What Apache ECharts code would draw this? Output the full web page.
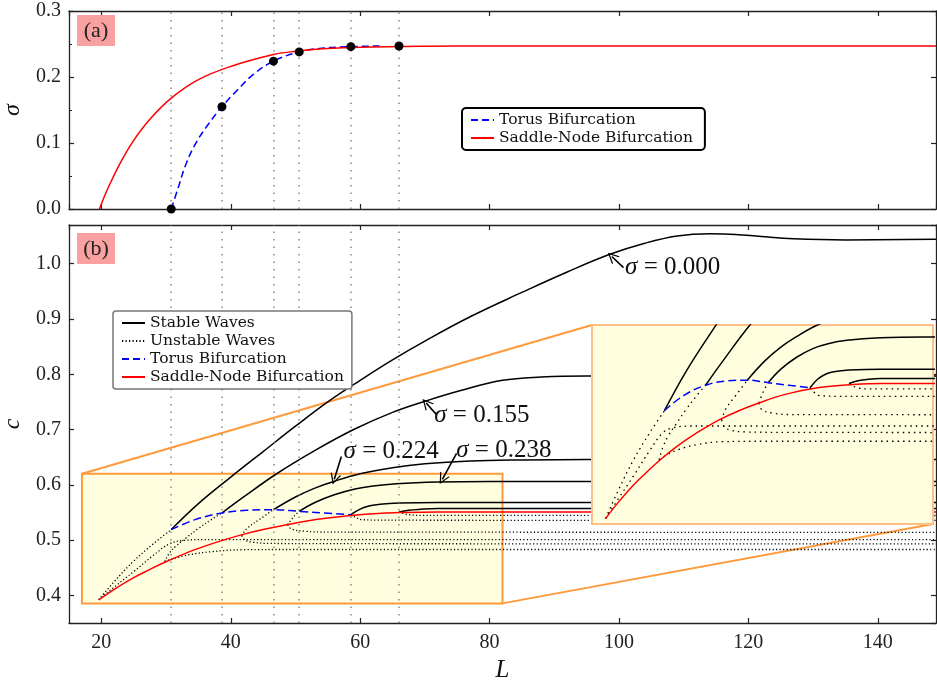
<!DOCTYPE html>
<html>
<head>
<meta charset="utf-8">
<script src="https://cdn.jsdelivr.net/npm/echarts@6/dist/echarts.min.js"></script>
<style>
  html, body { margin: 0; padding: 0; background: #fff; }
  #main { width: 937px; height: 683px; }
</style>
</head>
<body>
<div id="main"></div>
<script>
// ---- values ----
// torus points (dots in panel a, grey guide lines in both panels)
const torusL = [30.8, 38.64, 46.6, 50.58, 58.56, 66.0]
const torusSigma = [0.0, 0.155, 0.224, 0.238, 0.246, 0.247]

// panel (a): sigma against L
const snSigma = [[19.7, 0], [21, 0.031], [23, 0.071], [25, 0.104], [27.5, 0.136], [30.8, 0.168], [35, 0.196], [40, 0.216], [46.6, 0.234], [50, 0.239], [55, 0.243], [60, 0.245], [70, 0.2465], [80, 0.247], [100, 0.247], [149, 0.247]]
const trSigma = [[30.8, 0], [32, 0.036], [33, 0.066], [34.5, 0.098], [36.5, 0.128], [38.64, 0.155], [41, 0.18], [43.5, 0.204], [46.6, 0.224], [50.58, 0.238], [54, 0.2435], [58.56, 0.246], [63, 0.247]]

// panel (b): wave speed c against L
const snC = [[19.6, 0.392], [22, 0.411], [25, 0.432], [27.5, 0.447], [29.8, 0.460], [33, 0.476], [36, 0.489], [38.6, 0.499], [41.5, 0.509], [45, 0.519], [48.8, 0.528], [52, 0.535], [55, 0.540], [58.6, 0.5445], [62, 0.5475], [66.2, 0.5497], [72, 0.551], [149, 0.551]]
const trC = [[30.8, 0.519], [34.5, 0.537], [38.64, 0.549], [42.5, 0.554], [46.6, 0.555], [50.58, 0.552], [54.5, 0.549], [58.56, 0.546]]

// stable branches
const stable000 = [[30.8, 0.519], [35, 0.566], [40, 0.614], [45, 0.660], [50, 0.706], [55, 0.750], [60, 0.789], [65, 0.826], [70, 0.860], [77, 0.904], [85, 0.948], [92, 0.985], [98.6, 1.017], [104, 1.037], [109, 1.050], [114, 1.054], [118, 1.053], [122, 1.049], [127, 1.045], [135, 1.043], [149, 1.044]]
const stable155 = [[38.64, 0.549], [42, 0.578], [47.1, 0.620], [53.3, 0.664], [59, 0.700], [65, 0.731], [70, 0.751], [75.4, 0.770], [82, 0.789], [88, 0.795], [95, 0.797], [149, 0.797]]
const stable224 = [[46.6, 0.555], [50, 0.578], [53, 0.594], [55.9, 0.606], [60, 0.620], [65, 0.631], [70, 0.638], [77, 0.643], [85, 0.645], [95, 0.646], [149, 0.646]]
const stable238 = [[50.58, 0.552], [53, 0.568], [56, 0.582], [59.2, 0.5925], [62, 0.598], [65.6, 0.602], [72, 0.605], [80, 0.606], [149, 0.606]]
const stable246 = [[58.56, 0.546], [60, 0.556], [61.5, 0.562], [63.1, 0.565], [66, 0.567], [72, 0.568], [149, 0.568]]
const stable247 = [[66.0, 0.551], [67.5, 0.554], [69, 0.5555], [72, 0.557], [149, 0.557]]

// unstable branches (upper part: fold -> torus, lower part: fold -> plateau)
const unstable000a = [[19.6, 0.392], [22, 0.425], [25, 0.462], [28, 0.493], [30.8, 0.519]]
const unstable000b = [[19.6, 0.392], [22, 0.415], [25, 0.443], [28, 0.472], [30.5, 0.493], [32.5, 0.499], [36, 0.501], [149, 0.501]]
const unstable155a = [[29.8, 0.461], [30.5, 0.476], [31.5, 0.489], [33, 0.503], [35, 0.521], [37, 0.537], [38.64, 0.549]]
const unstable155b = [[29.8, 0.461], [31, 0.466], [33.6, 0.4735], [37, 0.479], [41.8, 0.4825], [50, 0.483], [149, 0.483]]
const unstable224a = [[41.7, 0.508], [42.5, 0.521], [44.4, 0.537], [46.6, 0.555]]
const unstable224b = [[41.7, 0.508], [42.2, 0.500], [43.5, 0.496], [46, 0.494], [55, 0.4935], [149, 0.493]]
const unstable238a = [[48.8, 0.528], [49.8, 0.5434], [50.58, 0.552]]
const unstable238b = [[48.8, 0.528], [49.4, 0.520], [51.6, 0.516], [55, 0.5145], [149, 0.514]]
const unstable246 = [[58.56, 0.546], [59.3, 0.541], [60.2, 0.537], [64, 0.536], [149, 0.5355]]
const unstable247 = [[66.0, 0.551], [67.5, 0.546], [70, 0.5447], [149, 0.5445]]

// zoomed region shown in the inset
const zoomL = [17, 82]
const zoomC = [0.3855, 0.62]

// annotations: label, text centre, arrow tail, arrow tip (data coords)
const notesMain = [
  ['0.000', [108.3, 0.993], [100.7, 0.993], [98.9, 1.013]],
  ['0.155', [78.8, 0.725], [71.8, 0.727], [70.2, 0.748]],
  ['0.224', [64.8, 0.660], [57.1, 0.651], [56.0, 0.610]],
  ['0.238', [82.2, 0.662], [74.9, 0.657], [72.7, 0.610]]
]
const notesInset = [
  ['0.247', [56.8, 0.455], [66.4, 0.459], [68.9, 0.549]],
  ['0.246', [68.6, 0.4315], [78.0, 0.4353], [79.6, 0.563]]
]

const stableBranches = [stable000, stable155, stable224, stable238, stable246, stable247]
const unstableBranches = [unstable000a, unstable000b, unstable155a, unstable155b, unstable224a, unstable224b, unstable238a, unstable238b, unstable246, unstable247]

const INSET = { left: 592, top: 325, width: 341, height: 199 }
const serif = 'Liberation Serif'
const chevron = 'path://M0,12 L6,0 L12,12 L10.5,12 L6,3 L1.5,12 Z'

var myChart = echarts.init(document.getElementById('main'))

function frame(extra) {
  return Object.assign({
    type: 'value',
    axisLine: { show: true, onZero: false, lineStyle: { color: '#222', width: 1.3 } },
    axisTick: { show: true, inside: true, length: 5, lineStyle: { color: '#222', width: 1.2 } },
    axisLabel: { show: false },
    splitLine: { show: false }
  }, extra)
}
const tickLabel = { show: true, color: '#222', fontFamily: serif, fontSize: 20, showMinLabel: false, showMaxLabel: false }

function curve(name, data, ax, style, z) {
  return {
    type: 'line', name: name, data: data, xAxisIndex: ax, yAxisIndex: ax,
    symbol: 'none', smooth: 0.4, silent: true,
    lineStyle: style, itemStyle: { color: style.color }, z: z
  }
}

function noteSeries(notes, ax, z) {
  return {
    type: 'line', data: [], xAxisIndex: ax, yAxisIndex: ax, z: z, silent: true,
    markLine: {
      silent: true, symbolSize: 11, label: { show: false },
      lineStyle: { color: '#000', width: 1.6, type: 'solid' },
      data: notes.map(n => [{ coord: n[2], symbol: 'none' }, { coord: n[3], symbol: chevron }])
    },
    markPoint: {
      silent: true, symbol: 'circle', symbolSize: 1,
      itemStyle: { color: 'rgba(0,0,0,0)' },
      label: {
        show: true, position: 'inside', color: '#111', fontFamily: serif, fontSize: 25,
        rich: { s: { fontStyle: 'italic', fontFamily: serif, fontSize: 25, color: '#111' } }
      },
      data: notes.map(n => ({ coord: n[1], label: { formatter: '{s|σ} = ' + n[0] } }))
    }
  }
}

function panelB(ax, zBase, dots, dashes) {
  const out = []
  unstableBranches.forEach(d => out.push(curve('Unstable Waves', d, ax, { color: '#000', width: 1.3, type: dots }, zBase)))
  stableBranches.forEach(d => out.push(curve('Stable Waves', d, ax, { color: '#000', width: 1.5 }, zBase + 1)))
  out.push(curve('Torus Bifurcation', trC, ax, { color: '#0000ff', width: 1.5, type: dashes }, zBase + 2))
  out.push(curve('Saddle-Node Bifurcation', snC, ax, { color: '#ff0000', width: 1.5 }, zBase + 2))
  return out
}

const guideStyle = { color: '#888', width: 1.5, type: [1.5, 6] }
function guides(ax) {
  return {
    type: 'line', data: [], xAxisIndex: ax, yAxisIndex: ax, z: 2, silent: true,
    markLine: {
      silent: true, symbol: ['none', 'none'], label: { show: false },
      lineStyle: guideStyle, data: torusL.map(L => ({ xAxis: L }))
    }
  }
}

const series = [
  // panel (a)
  guides(0),
  curve('Torus Bifurcation', trSigma, 0, { color: '#0000ff', width: 1.5, type: [7, 4] }, 3),
  curve('Saddle-Node Bifurcation', snSigma, 0, { color: '#ff0000', width: 1.5 }, 4),
  {
    type: 'scatter', data: torusL.map((L, i) => [L, torusSigma[i]]), xAxisIndex: 0, yAxisIndex: 0,
    symbolSize: 9, itemStyle: { color: '#000', opacity: 1 }, z: 5, silent: true
  },
  // panel (b): zoom box first, under everything
  {
    type: 'line', data: [], xAxisIndex: 2, yAxisIndex: 2, z: 1, silent: true,
    markArea: {
      silent: true, label: { show: false },
      itemStyle: { color: '#ffffe0', borderColor: '#ff9a3c', borderWidth: 2 },
      data: [[{ coord: [zoomL[0], zoomC[0]] }, { coord: [zoomL[1], zoomC[1]] }]]
    }
  },
  guides(2)
].concat(panelB(2, 3, [1.2, 2.3], [8, 4]))
  .concat([noteSeries(notesMain, 2, 6)])
  .concat(panelB(4, 60, [1.5, 4], [8, 4]))
  .concat([noteSeries(notesInset, 4, 65)])

const legendBase = {
  orient: 'vertical', itemWidth: 23, itemHeight: 14, itemGap: 2,
  backgroundColor: '#fff', itemStyle: { opacity: 0 },
  textStyle: { fontFamily: 'DejaVu Serif', fontSize: 15.5, color: '#111' },
  selectedMode: false, z: 8
}

var option = {
  animation: false,
  backgroundColor: '#fff',
  grid: [
    { left: 69, top: 11, width: 867, height: 198, outerBoundsMode: 'none', containLabel: false },
    { left: 69, top: 225, width: 867, height: 398, outerBoundsMode: 'none', containLabel: false },
    { left: INSET.left, top: INSET.top, width: INSET.width, height: INSET.height, show: false, outerBoundsMode: 'none', containLabel: false }
  ],
  xAxis: [
    frame({ gridIndex: 0, position: 'bottom', min: 15, max: 149, splitNumber: 7 }),
    frame({ gridIndex: 0, position: 'top', min: 15, max: 149, splitNumber: 7 }),
    frame({
      gridIndex: 1, position: 'bottom', min: 15, max: 149, splitNumber: 7,
      axisLabel: Object.assign({ margin: 10 }, tickLabel),
      name: 'L', nameLocation: 'middle', nameGap: 28,
      nameTextStyle: { fontFamily: serif, fontStyle: 'italic', fontSize: 25, color: '#111' }
    }),
    frame({ gridIndex: 1, position: 'top', min: 15, max: 149, splitNumber: 7 }),
    { type: 'value', gridIndex: 2, min: zoomL[0], max: zoomL[1], show: false }
  ],
  yAxis: [
    frame({
      gridIndex: 0, position: 'left', min: 0, max: 0.3, interval: 0.1,
      minorTick: { show: true, splitNumber: 2, length: 3, lineStyle: { color: '#222', width: 1 } },
      axisLabel: Object.assign({ margin: 8, formatter: v => v.toFixed(1) }, tickLabel, { showMinLabel: true, showMaxLabel: true }),
      name: 'σ', nameLocation: 'middle', nameGap: 44,
      nameTextStyle: { fontFamily: serif, fontStyle: 'italic', fontSize: 24, color: '#111' }
    }),
    frame({ gridIndex: 0, position: 'right', min: 0, max: 0.3, interval: 0.1 }),
    frame({
      gridIndex: 1, position: 'left', min: 0.35, max: 1.07, splitNumber: 7,
      axisLabel: Object.assign({ margin: 8, formatter: v => v.toFixed(1) }, tickLabel),
      name: 'c', nameLocation: 'middle', nameGap: 44,
      nameTextStyle: { fontFamily: serif, fontStyle: 'italic', fontSize: 24, color: '#111' }
    }),
    frame({ gridIndex: 1, position: 'right', min: 0.35, max: 1.07, splitNumber: 7 }),
    { type: 'value', gridIndex: 2, min: zoomC[0], max: zoomC[1], show: false }
  ],
  legend: [
    Object.assign({}, legendBase, {
      data: ['Torus Bifurcation', 'Saddle-Node Bifurcation'],
      left: 462, top: 108, padding: [4, 12, 4, 8],
      borderColor: '#000', borderWidth: 2, borderRadius: 4
    }),
    Object.assign({}, legendBase, {
      data: ['Stable Waves', 'Unstable Waves', 'Torus Bifurcation', 'Saddle-Node Bifurcation'],
      left: 113, top: 311, padding: [4, 8, 4, 8],
      borderColor: '#777', borderWidth: 1.5, borderRadius: 3
    })
  ],
  series: series
}
myChart.setOption(option)

// decorations that depend on the layout: panel tags, inset frame, connector lines
const cornerA = myChart.convertToPixel({ xAxisIndex: 2, yAxisIndex: 2 }, [zoomL[0], zoomC[1]])
const cornerB = myChart.convertToPixel({ xAxisIndex: 2, yAxisIndex: 2 }, [zoomL[1], zoomC[0]])
function tag(txt, top) {
  return {
    type: 'group', left: 77, top: top, z: 20,
    children: [
      { type: 'rect', shape: { x: 0, y: 0, width: 38, height: 31 }, style: { fill: '#f9a0a0' }, z: 20 },
      { type: 'text', x: 19, y: 16, style: { text: txt, font: '22px "Liberation Serif"', fill: '#222', align: 'center', verticalAlign: 'middle' }, z: 21 }
    ]
  }
}
myChart.setOption({
  graphic: [
    tag('(a)', 15),
    tag('(b)', 233),
    {
      type: 'line', z: 1, silent: true,
      shape: { x1: cornerA[0], y1: cornerA[1], x2: INSET.left, y2: INSET.top },
      style: { stroke: '#ff9a3c', lineWidth: 2 }
    },
    {
      type: 'line', z: 1, silent: true,
      shape: { x1: cornerB[0], y1: cornerB[1], x2: INSET.left + INSET.width, y2: INSET.top + INSET.height },
      style: { stroke: '#ff9a3c', lineWidth: 2 }
    },
    {
      type: 'rect', z: 50, silent: true,
      shape: { x: INSET.left, y: INSET.top, width: INSET.width, height: INSET.height },
      style: { fill: '#ffffe0', stroke: '#ffbe85', lineWidth: 2 }
    }
  ]
})
</script>
</body>
</html>
